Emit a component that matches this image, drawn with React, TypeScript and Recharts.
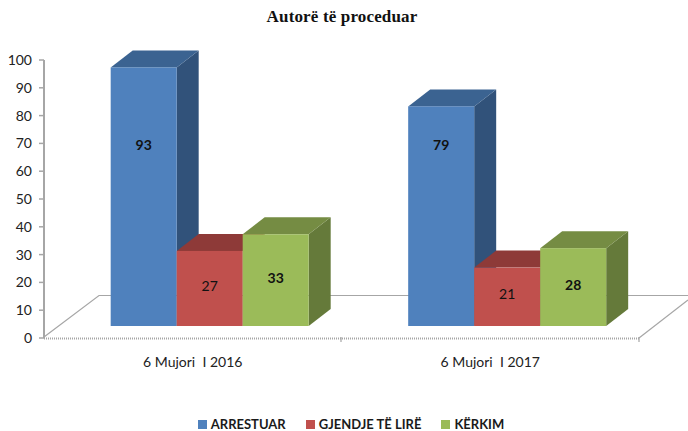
import React from 'react';
import { BarChart, Bar, XAxis, YAxis, Legend, LabelList } from 'recharts';

const categories = ['6 Mujori\u00a0\u00a0I 2016', '6 Mujori\u00a0\u00a0I 2017'];
const arrestuar = [93, 79];
const gjendjeTeLire = [27, 21];
const kerkim = [33, 28];
const yTicks = [0, 10, 20, 30, 40, 50, 60, 70, 80, 90, 100];

const data = categories.map((name, i) => ({
  name,
  ARRESTUAR: arrestuar[i],
  'GJENDJE TË LIRË': gjendjeTeLire[i],
  KËRKIM: kerkim[i],
}));

const WIDTH = 688;
const HEIGHT = 431;
const PLOT = { left: 44, right: 639, top: 60, bottom: 337 };
const LEGEND_HEIGHT = 17;
const BAR_SHIFT = { x: 17, y: -12 }; // front face sits inside the floor
const DEPTH = { x: 22, y: -17 };
const FONT = 'Lato, "Open Sans", sans-serif';

// Extruded box, drawn from the rect the library computes
const box3d = (side: string, top: string) => (props: any) => {
  const { x, y, width, height, fill } = props;
  const l = x + BAR_SHIFT.x;
  const t = y + BAR_SHIFT.y;
  const r = l + width;
  const b = t + height;
  return (
    <g>
      <polygon points={`${r},${t} ${r + DEPTH.x},${t + DEPTH.y} ${r + DEPTH.x},${b + DEPTH.y} ${r},${b}`} fill={side} />
      <polygon points={`${l},${t} ${l + DEPTH.x},${t + DEPTH.y} ${r + DEPTH.x},${t + DEPTH.y} ${r},${t}`} fill={top} />
      <rect x={l} y={t} width={width} height={height} fill={fill} />
    </g>
  );
};

// Value labels on the front face; the tall blue bars keep theirs at a fixed height above the base
const faceLabel = (bold: boolean, raise: number, aboveBase?: number) => (props: any) => {
  const { x, y, width, height, value } = props;
  const cx = x + BAR_SHIFT.x + width / 2;
  const base = y + BAR_SHIFT.y + height;
  const cy = aboveBase ? base - aboveBase : base - height / 2 - raise;
  return (
    <text x={cx} y={cy} textAnchor="middle" dominantBaseline="central" fontFamily={FONT} fontSize={14} fontWeight={bold ? 700 : 400} fill="#111">
      {value}
    </text>
  );
};

const Floor = () => (
  <g fill="none" stroke="#a6a6a6">
    <path d={`M${PLOT.left} 337 L99 295.5 H${WIDTH}`} strokeWidth={1.2} />
    <path d={`M${PLOT.right} 338 L${WIDTH} 300`} strokeWidth={1.2} />
    <path d={`M${PLOT.left} 338.5 H${PLOT.right}`} strokeWidth={2} strokeDasharray="1 1" />
    <path d="M341 337 V342 M639 337 V342" strokeWidth={1.2} />
  </g>
);

const LegendRow = ({ payload }: any) => (
  <div style={{ display: 'flex', justifyContent: 'center', gap: 20, fontFamily: FONT, fontSize: 13, fontWeight: 700, color: '#1a1a1a', lineHeight: '16px' }}>
    {(payload || []).map((p: any) => (
      <span key={p.value} style={{ display: 'flex', alignItems: 'center', gap: 4 }}>
        <span style={{ width: 9, height: 9, background: p.color, display: 'inline-block' }} />
        {p.value}
      </span>
    ))}
  </div>
);

export default function App() {
  return (
    <div style={{ position: 'absolute', left: 0, top: 0, width: WIDTH, height: HEIGHT, background: '#fff' }}>
      <BarChart
        width={WIDTH}
        height={HEIGHT}
        data={data}
        margin={{ top: PLOT.top, right: WIDTH - PLOT.right, bottom: 0, left: 0 }}
        barCategoryGap="16.7%"
        barGap={0}
      >
        <text x={342} y={22} textAnchor="middle" fontFamily='"Liberation Serif", serif' fontSize={17} fontWeight={700} letterSpacing={0.15} fill="#111">
          Autorë të proceduar
        </text>
        <Floor />
        <XAxis dataKey="name" axisLine={false} tickLine={false} height={HEIGHT - PLOT.bottom - LEGEND_HEIGHT} tickMargin={13} tick={{ fontFamily: FONT, fontSize: 14, fill: '#222' }} />
        <YAxis
          width={PLOT.left}
          domain={[0, 100]}
          ticks={yTicks}
          interval={0}
          axisLine={{ stroke: '#a6a6a6', strokeWidth: 2 }}
          tickLine={{ stroke: '#a6a6a6', strokeWidth: 1.5 }}
          tickSize={5}
          tickMargin={7}
          tick={{ fontFamily: FONT, fontSize: 14, fill: '#222' }}
        />
        <Bar dataKey="ARRESTUAR" fill="#4f81bd" isAnimationActive={false} shape={box3d('#31527a', '#3b6391')}>
          <LabelList dataKey="ARRESTUAR" content={faceLabel(true, 0, 182)} />
        </Bar>
        <Bar dataKey="GJENDJE TË LIRË" fill="#c0504d" isAnimationActive={false} shape={box3d('#7d3432', '#8e3a38')}>
          <LabelList dataKey="GJENDJE TË LIRË" content={faceLabel(false, 3)} />
        </Bar>
        <Bar dataKey="KËRKIM" fill="#9bbb59" isAnimationActive={false} shape={box3d('#657a3a', '#758c43')}>
          <LabelList dataKey="KËRKIM" content={faceLabel(true, 3)} />
        </Bar>
        <Legend content={<LegendRow />} height={0} wrapperStyle={{ top: 416, left: 7, width: WIDTH }} />
      </BarChart>
    </div>
  );
}
